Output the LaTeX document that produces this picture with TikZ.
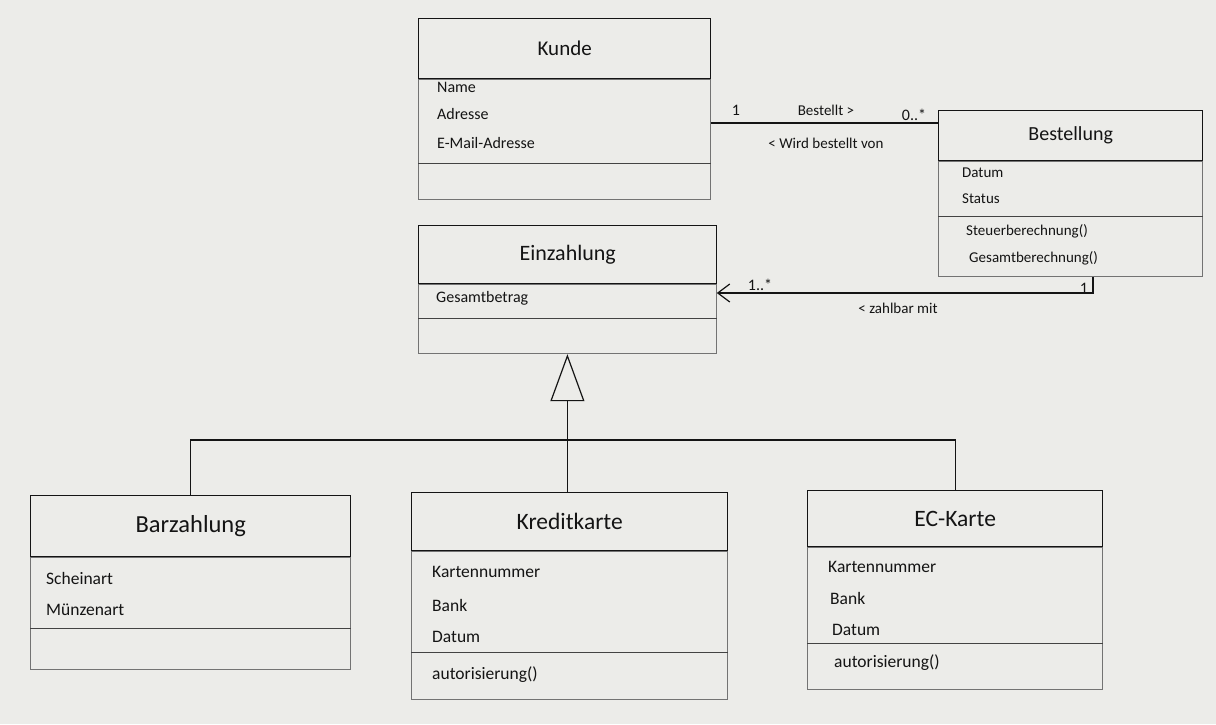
\documentclass[tikz,border=0pt]{standalone}
\usepackage{fontspec}
\setmainfont{Carlito}
\usetikzlibrary{arrows.meta}
\definecolor{paper}{RGB}{236,236,233}
\definecolor{ink}{RGB}{20,20,20}
\definecolor{edge}{RGB}{115,115,115}
\begin{document}
\begin{tikzpicture}[x=1pt,y=-1pt,
  titlebox/.style={draw=ink,line width=1.4pt,rectangle,anchor=north west,inner sep=0pt,text=ink,font=\fontsize{21}{25}\selectfont},
  bodybox/.style={draw=edge,line width=0.8pt,rectangle,anchor=north west,inner sep=0pt},
  attr/.style={anchor=west,inner sep=0pt,text=ink,font=\fontsize{16}{18}\selectfont},
  attrs/.style={attr,font=\fontsize{15}{17}\selectfont},
  attrl/.style={attr,font=\fontsize{17.5}{20}\selectfont},
  sepline/.style={draw=ink!80,line width=0.9pt},
  assoc/.style={draw=ink,line width=1.2pt},
  lbl/.style={inner sep=0pt,text=ink,font=\fontsize{15}{17}\selectfont},
  mult/.style={inner sep=0pt,text=ink,font=\fontsize{16}{18}\selectfont}
]
\fill[paper] (0,0) rectangle (1216,724);
\useasboundingbox (0,0) rectangle (1216,724);

% Kunde
\node[titlebox,minimum width=292pt,minimum height=60pt] (kundeT) at (418,18) {Kunde};
\node[bodybox,minimum width=292pt,minimum height=120pt] (kundeB) at (kundeT.south west) {};
\node[attr] (kName) at (437,87) {Name};
\node[attr] (kAdr) at (437,114) {Adresse};
\node[attr] (kMail) at (437,143) {E-Mail-Adresse};
\draw[sepline] (kundeB.west |- 0,163) -- (kundeB.east |- 0,163);

% Bestellung
\node[titlebox,minimum width=264pt,minimum height=50pt,font=\fontsize{20}{24}\selectfont] (bestT) at (938,110) {Bestellung};
\node[bodybox,minimum width=264pt,minimum height=115pt] (bestB) at (bestT.south west) {};
\node[attrs] (bDat) at (962,173) {Datum};
\node[attrs] (bSta) at (962,199) {Status};
\draw[sepline] (bestB.west |- 0,216) -- (bestB.east |- 0,216);
\node[attrs] (bSteu) at (966,231) {Steuerberechnung()};
\node[attrs] (bGes) at (969,258) {Gesamtberechnung()};

% Einzahlung
\node[titlebox,minimum width=298pt,minimum height=58pt,font=\fontsize{22}{26}\selectfont] (einzT) at (418,225) {Einzahlung};
\node[bodybox,minimum width=298pt,minimum height=69pt] (einzB) at (einzT.south west) {};
\node[attr] (eGes) at (436,298) {Gesamtbetrag};
\draw[sepline] (einzB.west |- 0,318) -- (einzB.east |- 0,318);

% Barzahlung
\node[titlebox,minimum width=320pt,minimum height=61pt,font=\fontsize{24.5}{28}\selectfont] (barT) at (30,495) {Barzahlung};
\node[bodybox,minimum width=320pt,minimum height=112pt] (barB) at (barT.south west) {};
\node[attrl] (bSchein) at (46,578) {Scheinart};
\node[attrl] (bMuenz) at (46,610) {Münzenart};
\draw[sepline] (barB.west |- 0,628) -- (barB.east |- 0,628);

% Kreditkarte
\node[titlebox,minimum width=316pt,minimum height=58pt,font=\fontsize{23.5}{27}\selectfont] (kreditT) at (411,492) {Kreditkarte};
\node[bodybox,minimum width=316pt,minimum height=148pt] (kreditB) at (kreditT.south west) {};
\node[attrl] (kKnr) at (432,572) {Kartennummer};
\node[attrl] (kBank) at (432,605) {Bank};
\node[attrl] (kDat) at (432,637) {Datum};
\draw[sepline] (kreditB.west |- 0,652) -- (kreditB.east |- 0,652);
\node[attrl] (kAut) at (432,675) {autorisierung()};

% EC-Karte
\node[titlebox,minimum width=295pt,minimum height=56pt,font=\fontsize{23.5}{27}\selectfont] (ecT) at (807,490) {EC-Karte};
\node[bodybox,minimum width=295pt,minimum height=142pt] (ecB) at (ecT.south west) {};
\node[attrl] (eKnr) at (828,567) {Kartennummer};
\node[attrl] (eBank) at (830,598) {Bank};
\node[attrl] (eDat) at (832,630) {Datum};
\draw[sepline] (ecB.west |- 0,643) -- (ecB.east |- 0,643);
\node[attrl] (eAut) at (834,663) {autorisierung()};

% Kunde -- Bestellung
\draw[assoc] (kundeB.east |- 0,123) -- (bestT.west |- 0,123);
\node[mult] (m1) at (736,110) {1};
\node[lbl] (lBest) at (826,110) {Bestellt >};
\node[mult] (m2) at (914,115) {0..*};
\node[lbl] (lWird) at (826,143) {< Wird bestellt von};

% Bestellung -- Einzahlung
\draw[assoc,-{Straight Barb[length=12pt,width=18pt,line width=1.2pt]}]
  (bestB.south west -| 1093,0) |- (einzB.east |- 0,293);
\node[mult] (m3) at (760,285) {1..*};
\node[mult] (m4) at (1084,288) {1};
\node[lbl] (lZahl) at (898,308) {< zahlbar mit};

% Generalisierung
\draw[assoc,-{Triangle[open,length=47pt,width=34pt,line width=1.2pt]}]
  (einzB.south |- kreditT.north) -- (einzB.south);
\draw[assoc] (barT.north) -- (barT.north |- 0,440) -- (ecT.north |- 0,440) -- (ecT.north);
\end{tikzpicture}
\end{document}
